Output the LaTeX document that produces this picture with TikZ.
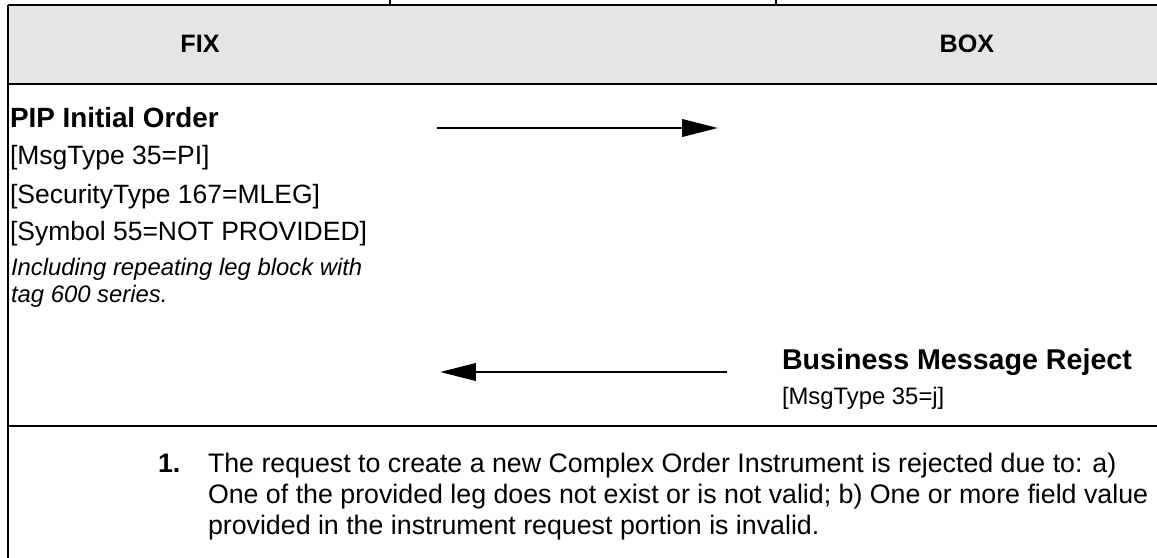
\documentclass[tikz,border=0pt]{standalone}
\usepackage{fontspec}
\setmainfont{Liberation Sans}
\usetikzlibrary{arrows.meta, positioning}
\definecolor{hdrgray}{HTML}{E5E5E5}

\begin{document}
\begin{tikzpicture}[x=0.3774pt, y=-0.3774pt,
  every node/.style={inner sep=0pt, outer sep=0pt, font=\fontsize{10}{12}\selectfont},
  hdr/.style={font=\bfseries\fontsize{9.5}{11}\selectfont},
  title/.style={anchor=base west, font=\bfseries\fontsize{10.5}{12}\selectfont},
  msg/.style={anchor=base west},
  note/.style={anchor=base west, font=\itshape\fontsize{9}{11}\selectfont},
  foot/.style={anchor=base west, font=\fontsize{10.1}{12}\selectfont},
  arr/.style={-{Triangle[length=13.5pt, width=6.5pt]}, line width=1.1pt},
  rule/.style={line width=0.9pt}
]
\useasboundingbox (0,0) rectangle (1157,558);

% header band
\fill[hdrgray] (8,5) rectangle (1157,84);
\draw[line width=0.5pt] (8,5) -- (1157,5);
\draw[line width=0.4pt] (390,0) -- (390,5) (776,0) -- (776,5);
\draw[rule] (8,84) -- (1157,84);
\draw[rule] (8,426) -- (1157,426);
\draw[line width=0.8pt] (8,5) -- (8,558);

\node[hdr] (fix) at (200,44) {FIX};
\node[hdr] (box) at (967,44) {BOX};

% left column: outgoing order
\node[title] (pip) at (10,127) {PIP Initial Order};
\node[msg] (msgtype) at (10,165) {[MsgType 35=PI]};
\node[msg] (sectype) at (10,203) {[SecurityType 167=MLEG]};
\node[msg] (symbol) at (10,240) {[Symbol 55=NOT PROVIDED]};
\node[note] (legs1) at (11,276) {Including repeating leg block with};
\node[note] (legs2) at (11,302) {tag 600 series.};

% right column: reply
\node[anchor=base west, font=\bfseries\fontsize{10.8}{13}\selectfont] (reject) at (782,370) {Business Message Reject};
\node[note, font=\fontsize{9}{11}\selectfont] (rejtype) at (782,404) {[MsgType 35=j]};

% messages
\coordinate (req-a) at (437,128);
\coordinate (req-b) at (718,128);
\draw[arr] (req-a) -- (req-b);
\coordinate (rej-a) at (727,372);
\coordinate (rej-b) at (440,372);
\draw[arr] (rej-a) -- (rej-b);

% footnote
\node[foot, font=\bfseries\fontsize{10.1}{12}\selectfont] (num) at (158,472) {1.};
\node[foot] (line1) at (208,472) {The request to create a new Complex Order Instrument is rejected due to: a)};
\node[foot] (line2) at (208,503) {One of the provided leg does not exist or is not valid; b) One or more field value};
\node[foot] (line3) at (208,534) {provided in the instrument request portion is invalid.};
\end{tikzpicture}
\end{document}
